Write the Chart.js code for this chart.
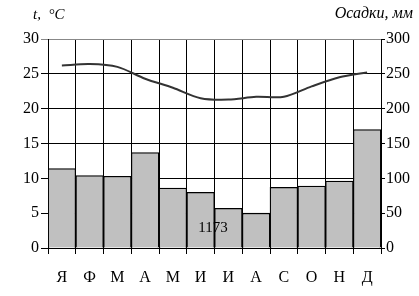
<!DOCTYPE html>
<html>
<head>
<meta charset="utf-8">
<script src="https://cdn.jsdelivr.net/npm/chart.js@4"></script>
<style>
  html, body { margin: 0; padding: 0; background: #fff; }
  #wrap { width: 419px; height: 296px; }
</style>
</head>
<body>
<div id="wrap"><canvas id="chart" width="419" height="296"></canvas></div>
<script>
// месяцы
const months = ['Я', 'Ф', 'М', 'А', 'М', 'И', 'И', 'А', 'С', 'О', 'Н', 'Д'];
// температура, °C
const temperature = [26.2, 26.4, 26.0, 24.3, 23.0, 21.5, 21.3, 21.7, 21.7, 23.2, 24.5, 25.2];
// осадки, мм
const precipitation = [114, 104, 103, 137, 86, 80, 57, 50, 87, 89, 96, 170];
const totalPrecip = '1173';

const serif = 'Liberation Serif';

// подписи осей и сумма осадков
const labelsPlugin = {
    id: 'labels',
    afterDraw(chart) {
        const ctx = chart.ctx;
        ctx.save();
        ctx.fillStyle = '#000';
        ctx.textBaseline = 'middle';
        ctx.font = 'italic 15px ' + serif;
        ctx.textAlign = 'left';
        ctx.fillText('t,  °C', 33, 15);
        ctx.font = 'italic 16px ' + serif;
        ctx.textAlign = 'right';
        ctx.fillText('Осадки, мм', 413, 14);
        ctx.font = '15px ' + serif;
        ctx.textAlign = 'center';
        ctx.fillText(totalPrecip, 213, 228);
        ctx.restore();
    }
};

new Chart(document.getElementById('chart'), {
    data: {
        labels: months,
        datasets: [{
            type: 'line',
            data: temperature,
            yAxisID: 'y',
            borderColor: '#333',
            borderWidth: 2,
            tension: 0.3,
            pointRadius: 0
        }, {
            type: 'bar',
            data: precipitation,
            yAxisID: 'y2',
            backgroundColor: '#c0c0c0',
            borderColor: '#000',
            borderWidth: 1.3,
            barPercentage: 1,
            categoryPercentage: 1
        }]
    },
    options: {
        responsive: false,
        animation: false,
        layout: { padding: { top: 39, left: 0, right: 0, bottom: 0 } },
        plugins: { legend: { display: false }, tooltip: { enabled: false } },
        scales: {
            x: {
                offset: true,
                grid: { offset: true, color: '#000', tickLength: 6 },
                border: { color: '#000' },
                ticks: { color: '#000', padding: 14, font: { family: serif, size: 16 } },
                afterFit(s) { s.height = 48; }
            },
            y: {
                position: 'left',
                min: 0, max: 30,
                ticks: { stepSize: 5, color: '#000', padding: 2, font: { family: serif, size: 16 } },
                grid: {
                    color: c => (c.tick && c.tick.value === 30) ? '#888' : '#000',
                    tickLength: 7
                },
                border: { color: '#000' },
                afterFit(s) { s.width = 48; }
            },
            y2: {
                position: 'right',
                min: 0, max: 300,
                ticks: { stepSize: 50, color: '#000', padding: 1, font: { family: serif, size: 16 } },
                grid: { drawOnChartArea: false, color: '#000', tickLength: 4 },
                border: { color: '#000' },
                afterFit(s) { s.width = 38; }
            }
        }
    },
    plugins: [labelsPlugin]
});
</script>
</body>
</html>
